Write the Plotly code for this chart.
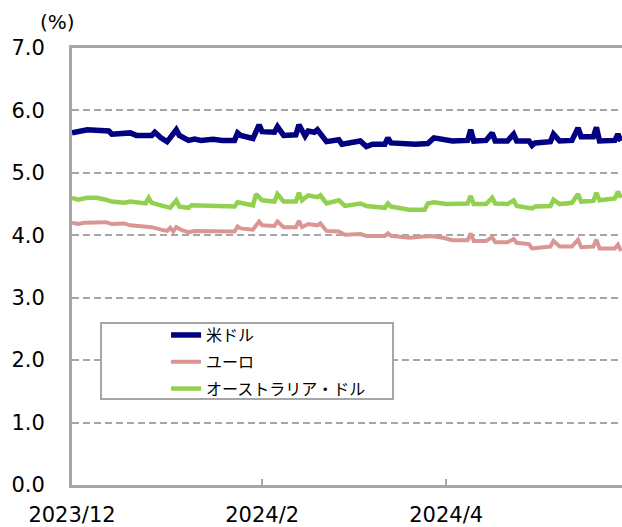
import plotly.graph_objects as go

# ---- data ----
usd_dates = ["2023-12-01","2023-12-06","2023-12-13","2023-12-14","2023-12-20","2023-12-22","2023-12-27","2023-12-28",
             "2023-12-30","2024-01-01","2024-01-02","2024-01-04","2024-01-05","2024-01-08","2024-01-10","2024-01-12",
             "2024-01-16","2024-01-19","2024-01-23","2024-01-24","2024-01-25","2024-01-27","2024-01-29","2024-01-31",
             "2024-02-01","2024-02-05","2024-02-06","2024-02-08","2024-02-12","2024-02-13","2024-02-15","2024-02-16",
             "2024-02-18","2024-02-19","2024-02-22","2024-02-26","2024-02-27","2024-03-04","2024-03-06","2024-03-08",
             "2024-03-12","2024-03-13","2024-03-14","2024-03-22","2024-03-26","2024-03-28","2024-03-31","2024-04-03",
             "2024-04-08","2024-04-09","2024-04-10","2024-04-14","2024-04-16","2024-04-17","2024-04-21","2024-04-23",
             "2024-04-24","2024-04-28","2024-04-29","2024-04-30","2024-05-05","2024-05-06","2024-05-08","2024-05-12",
             "2024-05-14","2024-05-15","2024-05-19","2024-05-20","2024-05-21","2024-05-26","2024-05-27","2024-05-28"]
usd_values = [5.64,5.69,5.67,5.62,5.64,5.60,5.60,5.65,
              5.56,5.50,5.56,5.69,5.60,5.52,5.54,5.52,
              5.54,5.52,5.52,5.64,5.60,5.58,5.55,5.77,
              5.66,5.65,5.74,5.60,5.61,5.77,5.59,5.67,
              5.65,5.69,5.50,5.53,5.46,5.51,5.42,5.46,
              5.46,5.56,5.48,5.46,5.47,5.56,5.53,5.51,
              5.52,5.69,5.51,5.52,5.64,5.51,5.51,5.62,
              5.51,5.51,5.44,5.48,5.50,5.62,5.51,5.52,
              5.72,5.58,5.58,5.73,5.51,5.52,5.62,5.51]

eur_dates = ["2023-12-01","2023-12-03","2023-12-05","2023-12-12","2023-12-14","2023-12-18","2023-12-20","2023-12-25",
             "2023-12-27","2023-12-30","2024-01-01","2024-01-02","2024-01-03","2024-01-04","2024-01-06","2024-01-08",
             "2024-01-10","2024-01-23","2024-01-24","2024-01-25","2024-01-29","2024-01-31","2024-02-01","2024-02-05",
             "2024-02-06","2024-02-08","2024-02-12","2024-02-13","2024-02-14","2024-02-16","2024-02-19","2024-02-20",
             "2024-02-22","2024-02-26","2024-02-28","2024-03-04","2024-03-06","2024-03-12","2024-03-13","2024-03-14",
             "2024-03-20","2024-03-27","2024-03-31","2024-04-03","2024-04-08","2024-04-09","2024-04-10","2024-04-14",
             "2024-04-16","2024-04-17","2024-04-21","2024-04-23","2024-04-24","2024-04-28","2024-04-29","2024-05-05",
             "2024-05-06","2024-05-08","2024-05-12","2024-05-14","2024-05-15","2024-05-19","2024-05-20","2024-05-21",
             "2024-05-26","2024-05-27","2024-05-28"]
eur_values = [4.20,4.18,4.20,4.21,4.18,4.19,4.16,4.14,
              4.13,4.09,4.07,4.12,4.06,4.13,4.08,4.05,
              4.07,4.06,4.14,4.11,4.09,4.22,4.16,4.15,
              4.22,4.13,4.13,4.23,4.13,4.18,4.16,4.19,
              4.07,4.06,4.01,4.02,3.99,3.99,4.03,3.99,
              3.96,3.99,3.96,3.92,3.92,4.03,3.91,3.91,
              3.97,3.89,3.89,3.94,3.88,3.86,3.79,3.82,
              3.91,3.82,3.82,3.93,3.81,3.82,3.93,3.79,
              3.79,3.85,3.75]

aud_dates = ["2023-12-01","2023-12-03","2023-12-06","2023-12-09","2023-12-12","2023-12-14","2023-12-18","2023-12-20",
             "2023-12-25","2023-12-26","2023-12-27","2024-01-02","2024-01-04","2024-01-05","2024-01-08","2024-01-09",
             "2024-01-23","2024-01-24","2024-01-29","2024-01-30","2024-02-01","2024-02-05","2024-02-06","2024-02-08",
             "2024-02-12","2024-02-13","2024-02-14","2024-02-16","2024-02-19","2024-02-20","2024-02-22","2024-02-26",
             "2024-02-28","2024-03-04","2024-03-06","2024-03-12","2024-03-13","2024-03-14","2024-03-20","2024-03-25",
             "2024-03-26","2024-03-28","2024-04-01","2024-04-08","2024-04-09","2024-04-10","2024-04-14","2024-04-16",
             "2024-04-17","2024-04-21","2024-04-23","2024-04-24","2024-04-29","2024-04-30","2024-05-05","2024-05-06",
             "2024-05-08","2024-05-12","2024-05-14","2024-05-15","2024-05-19","2024-05-20","2024-05-21","2024-05-26",
             "2024-05-27","2024-05-28"]
aud_values = [4.60,4.57,4.60,4.60,4.57,4.54,4.52,4.54,
              4.51,4.60,4.52,4.44,4.56,4.46,4.44,4.48,
              4.46,4.53,4.48,4.66,4.56,4.54,4.66,4.54,
              4.54,4.68,4.56,4.64,4.61,4.64,4.51,4.56,
              4.47,4.51,4.47,4.44,4.51,4.46,4.41,4.41,
              4.51,4.53,4.50,4.51,4.63,4.50,4.50,4.60,
              4.51,4.50,4.56,4.47,4.43,4.46,4.47,4.57,
              4.50,4.52,4.66,4.54,4.55,4.68,4.56,4.59,
              4.70,4.60]

series_names = ["米ドル", "ユーロ", "オーストラリア・ドル"]
series_colors = ["#000080", "#DA9694", "#92D050"]

x_tick_vals = ["2023-12-01", "2024-02-01", "2024-04-01"]
x_tick_text = ["2023/12", "2024/2", "2024/4"]
y_tick_vals = [0, 1, 2, 3, 4, 5, 6, 7]

# ---- figure ----
fig = go.Figure()
for i, (name, xs, ys, col, w) in enumerate([
    (series_names[0], usd_dates, usd_values, series_colors[0], 5.5),
    (series_names[1], eur_dates, eur_values, series_colors[1], 4),
    (series_names[2], aud_dates, aud_values, series_colors[2], 4.5),
]):
    fig.add_trace(go.Scatter(x=xs, y=ys, name=name, mode="lines", legendgroup=f"g{i}",
                             line=dict(color=col, width=w)))

GRAY = "#A6A6A6"
fig.update_layout(
    width=622, height=527,
    margin=dict(l=72, r=0, t=48, b=42, autoexpand=False),
    plot_bgcolor="white", paper_bgcolor="white",
    font=dict(family="DejaVu Sans, Verdana, sans-serif", size=21, color="#000000"),
    showlegend=True,
    legend=dict(
        x=0.171, y=0.382, xanchor="left", yanchor="top",
        bgcolor="rgba(0,0,0,0)", borderwidth=0,
        font=dict(family="Noto Sans CJK JP, sans-serif", size=16, color="#000000"),
        itemwidth=30, tracegroupgap=3,
    ),
    xaxis=dict(
        type="date", automargin=False,
        range=["2023-12-01", "2024-05-28 08:00"],
        tickvals=x_tick_vals, ticktext=x_tick_text,
        showgrid=False, zeroline=False,
        showline=True, linecolor=GRAY, linewidth=3, mirror=True,
        ticks="inside", ticklen=6, tickwidth=2, tickcolor=GRAY,
        ticklabelstandoff=9,
    ),
    yaxis=dict(
        range=[0, 7], tickvals=y_tick_vals, tickformat=".1f", automargin=False,
        showgrid=True, gridcolor=GRAY, gridwidth=2, griddash="7px,4px",
        zeroline=False,
        showline=True, linecolor=GRAY, linewidth=3,
        ticks="", ticklabelstandoff=20,
    ),
    shapes=[dict(type="rect", xref="paper", yref="paper",
                 x0=(101 - 72) / 550, x1=(393 - 72) / 550,
                 y0=(485 - 399) / 437, y1=(485 - 323) / 437,
                 line=dict(color=GRAY, width=2), fillcolor="white", layer="above")],
    annotations=[dict(text="(%)", xref="paper", yref="paper",
                      x=(57 - 72) / 550, y=1 + (48 - 22) / 437,
                      xanchor="center", yanchor="middle", showarrow=False,
                      font=dict(size=20))],
)

fig.write_html("out.html", config={"displayModeBar": False},
               post_script="document.body.style.margin='0';document.body.style.overflow='hidden';")
